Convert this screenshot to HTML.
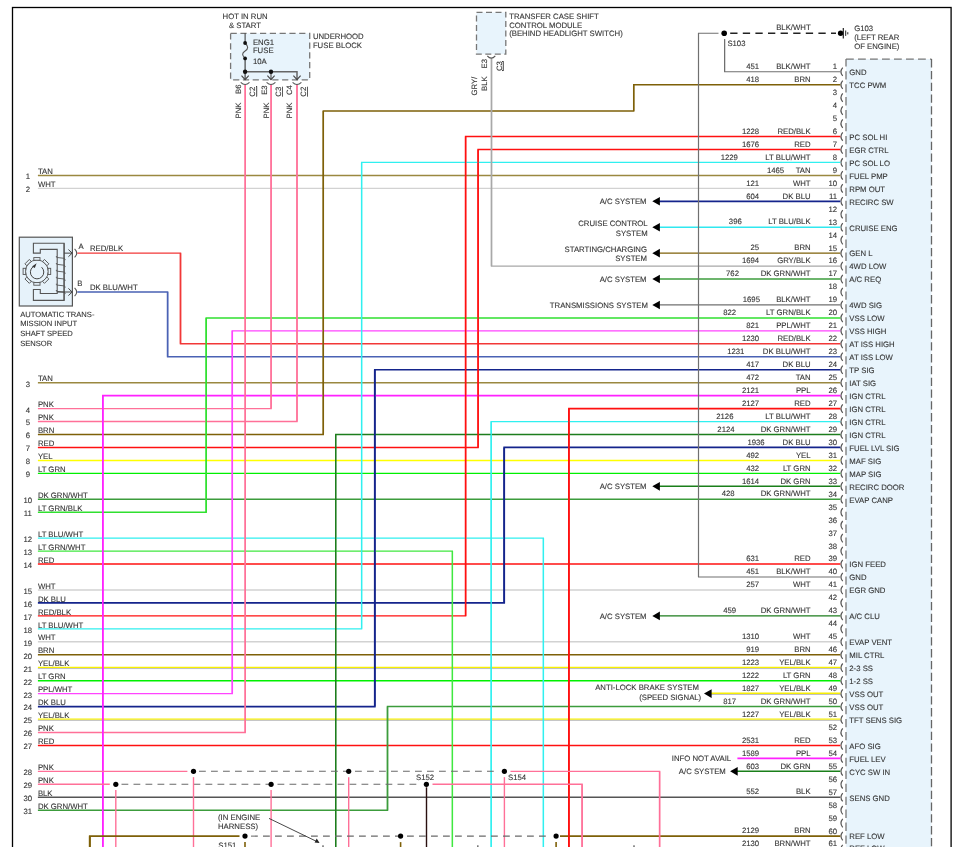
<!DOCTYPE html>
<html><head><meta charset="utf-8"><title>Wiring Diagram</title>
<style>
html,body{margin:0;padding:0;background:#fff;}
body{width:962px;height:847px;overflow:hidden;}
svg{display:block;}
text{font-family:"Liberation Sans",Arial,sans-serif;text-rendering:geometricPrecision;stroke:#333;stroke-width:0.1px;}
</style></head>
<body>
<svg width="962" height="847" viewBox="0 0 962 847">
<rect width="962" height="847" fill="#fff"/>
<rect x="12.5" y="7.5" width="938.6" height="900" fill="none" stroke="#000" stroke-width="1.3"/>
<rect x="846" y="59" width="85.5" height="820" fill="#e8f4fc" stroke="none"/>
<line x1="846.00" y1="59.10" x2="931.50" y2="59.10" stroke="#777" stroke-width="1.3" stroke-dasharray="7.8 4.2"/>
<line x1="931.50" y1="59.10" x2="931.50" y2="860.00" stroke="#666" stroke-width="1.3" stroke-dasharray="8.3 3.5"/>
<line x1="846" y1="59.1" x2="846" y2="860" stroke="#777" stroke-width="1.3" stroke-dasharray="8.355 4.6" stroke-dashoffset="-12.070"/>
<path d="M842.7,67.57 Q839.2,71.77 842.7,75.97" fill="none" stroke="#555" stroke-width="1.2"/>
<path d="M842.7,80.52 Q839.2,84.72 842.7,88.92" fill="none" stroke="#555" stroke-width="1.2"/>
<path d="M842.7,93.48 Q839.2,97.68 842.7,101.88" fill="none" stroke="#555" stroke-width="1.2"/>
<path d="M842.7,106.43 Q839.2,110.63 842.7,114.83" fill="none" stroke="#555" stroke-width="1.2"/>
<path d="M842.7,119.39 Q839.2,123.59 842.7,127.79" fill="none" stroke="#555" stroke-width="1.2"/>
<path d="M842.7,132.35 Q839.2,136.55 842.7,140.75" fill="none" stroke="#555" stroke-width="1.2"/>
<path d="M842.7,145.30 Q839.2,149.50 842.7,153.70" fill="none" stroke="#555" stroke-width="1.2"/>
<path d="M842.7,158.25 Q839.2,162.45 842.7,166.65" fill="none" stroke="#555" stroke-width="1.2"/>
<path d="M842.7,171.21 Q839.2,175.41 842.7,179.61" fill="none" stroke="#555" stroke-width="1.2"/>
<path d="M842.7,184.17 Q839.2,188.37 842.7,192.56" fill="none" stroke="#555" stroke-width="1.2"/>
<path d="M842.7,197.12 Q839.2,201.32 842.7,205.52" fill="none" stroke="#555" stroke-width="1.2"/>
<path d="M842.7,210.07 Q839.2,214.27 842.7,218.47" fill="none" stroke="#555" stroke-width="1.2"/>
<path d="M842.7,223.03 Q839.2,227.23 842.7,231.43" fill="none" stroke="#555" stroke-width="1.2"/>
<path d="M842.7,235.99 Q839.2,240.19 842.7,244.38" fill="none" stroke="#555" stroke-width="1.2"/>
<path d="M842.7,248.94 Q839.2,253.14 842.7,257.34" fill="none" stroke="#555" stroke-width="1.2"/>
<path d="M842.7,261.89 Q839.2,266.09 842.7,270.29" fill="none" stroke="#555" stroke-width="1.2"/>
<path d="M842.7,274.85 Q839.2,279.05 842.7,283.25" fill="none" stroke="#555" stroke-width="1.2"/>
<path d="M842.7,287.81 Q839.2,292.00 842.7,296.20" fill="none" stroke="#555" stroke-width="1.2"/>
<path d="M842.7,300.76 Q839.2,304.96 842.7,309.16" fill="none" stroke="#555" stroke-width="1.2"/>
<path d="M842.7,313.72 Q839.2,317.92 842.7,322.12" fill="none" stroke="#555" stroke-width="1.2"/>
<path d="M842.7,326.67 Q839.2,330.87 842.7,335.07" fill="none" stroke="#555" stroke-width="1.2"/>
<path d="M842.7,339.62 Q839.2,343.82 842.7,348.02" fill="none" stroke="#555" stroke-width="1.2"/>
<path d="M842.7,352.58 Q839.2,356.78 842.7,360.98" fill="none" stroke="#555" stroke-width="1.2"/>
<path d="M842.7,365.53 Q839.2,369.73 842.7,373.93" fill="none" stroke="#555" stroke-width="1.2"/>
<path d="M842.7,378.49 Q839.2,382.69 842.7,386.89" fill="none" stroke="#555" stroke-width="1.2"/>
<path d="M842.7,391.44 Q839.2,395.64 842.7,399.84" fill="none" stroke="#555" stroke-width="1.2"/>
<path d="M842.7,404.40 Q839.2,408.60 842.7,412.80" fill="none" stroke="#555" stroke-width="1.2"/>
<path d="M842.7,417.36 Q839.2,421.56 842.7,425.75" fill="none" stroke="#555" stroke-width="1.2"/>
<path d="M842.7,430.31 Q839.2,434.51 842.7,438.71" fill="none" stroke="#555" stroke-width="1.2"/>
<path d="M842.7,443.26 Q839.2,447.46 842.7,451.66" fill="none" stroke="#555" stroke-width="1.2"/>
<path d="M842.7,456.22 Q839.2,460.42 842.7,464.62" fill="none" stroke="#555" stroke-width="1.2"/>
<path d="M842.7,469.18 Q839.2,473.38 842.7,477.57" fill="none" stroke="#555" stroke-width="1.2"/>
<path d="M842.7,482.13 Q839.2,486.33 842.7,490.53" fill="none" stroke="#555" stroke-width="1.2"/>
<path d="M842.7,495.08 Q839.2,499.28 842.7,503.48" fill="none" stroke="#555" stroke-width="1.2"/>
<path d="M842.7,508.04 Q839.2,512.24 842.7,516.44" fill="none" stroke="#555" stroke-width="1.2"/>
<path d="M842.7,521.00 Q839.2,525.20 842.7,529.40" fill="none" stroke="#555" stroke-width="1.2"/>
<path d="M842.7,533.95 Q839.2,538.15 842.7,542.35" fill="none" stroke="#555" stroke-width="1.2"/>
<path d="M842.7,546.90 Q839.2,551.11 842.7,555.31" fill="none" stroke="#555" stroke-width="1.2"/>
<path d="M842.7,559.86 Q839.2,564.06 842.7,568.26" fill="none" stroke="#555" stroke-width="1.2"/>
<path d="M842.7,572.81 Q839.2,577.01 842.7,581.22" fill="none" stroke="#555" stroke-width="1.2"/>
<path d="M842.7,585.77 Q839.2,589.97 842.7,594.17" fill="none" stroke="#555" stroke-width="1.2"/>
<path d="M842.7,598.72 Q839.2,602.92 842.7,607.12" fill="none" stroke="#555" stroke-width="1.2"/>
<path d="M842.7,611.68 Q839.2,615.88 842.7,620.08" fill="none" stroke="#555" stroke-width="1.2"/>
<path d="M842.7,624.63 Q839.2,628.84 842.7,633.04" fill="none" stroke="#555" stroke-width="1.2"/>
<path d="M842.7,637.59 Q839.2,641.79 842.7,645.99" fill="none" stroke="#555" stroke-width="1.2"/>
<path d="M842.7,650.54 Q839.2,654.75 842.7,658.95" fill="none" stroke="#555" stroke-width="1.2"/>
<path d="M842.7,663.50 Q839.2,667.70 842.7,671.90" fill="none" stroke="#555" stroke-width="1.2"/>
<path d="M842.7,676.45 Q839.2,680.65 842.7,684.86" fill="none" stroke="#555" stroke-width="1.2"/>
<path d="M842.7,689.41 Q839.2,693.61 842.7,697.81" fill="none" stroke="#555" stroke-width="1.2"/>
<path d="M842.7,702.36 Q839.2,706.56 842.7,710.76" fill="none" stroke="#555" stroke-width="1.2"/>
<path d="M842.7,715.32 Q839.2,719.52 842.7,723.72" fill="none" stroke="#555" stroke-width="1.2"/>
<path d="M842.7,728.27 Q839.2,732.48 842.7,736.68" fill="none" stroke="#555" stroke-width="1.2"/>
<path d="M842.7,741.23 Q839.2,745.43 842.7,749.63" fill="none" stroke="#555" stroke-width="1.2"/>
<path d="M842.7,754.18 Q839.2,758.38 842.7,762.59" fill="none" stroke="#555" stroke-width="1.2"/>
<path d="M842.7,767.14 Q839.2,771.34 842.7,775.54" fill="none" stroke="#555" stroke-width="1.2"/>
<path d="M842.7,780.09 Q839.2,784.29 842.7,788.50" fill="none" stroke="#555" stroke-width="1.2"/>
<path d="M842.7,793.05 Q839.2,797.25 842.7,801.45" fill="none" stroke="#555" stroke-width="1.2"/>
<path d="M842.7,806.00 Q839.2,810.21 842.7,814.41" fill="none" stroke="#555" stroke-width="1.2"/>
<path d="M842.7,818.96 Q839.2,823.16 842.7,827.36" fill="none" stroke="#555" stroke-width="1.2"/>
<path d="M842.7,831.91 Q839.2,836.12 842.7,840.32" fill="none" stroke="#555" stroke-width="1.2"/>
<path d="M842.7,844.87 Q839.2,849.07 842.7,853.27" fill="none" stroke="#555" stroke-width="1.2"/>
<line x1="37.90" y1="175.41" x2="840.30" y2="175.41" stroke="#9a8840" stroke-width="1.45" />
<line x1="37.90" y1="188.37" x2="840.30" y2="188.37" stroke="#d2d2d2" stroke-width="1.35" />
<line x1="37.90" y1="382.69" x2="840.30" y2="382.69" stroke="#9a8840" stroke-width="1.45" />
<line x1="37.90" y1="460.42" x2="840.30" y2="460.42" stroke="#ffff00" stroke-width="1.45" />
<line x1="37.90" y1="473.38" x2="840.30" y2="473.38" stroke="#00f000" stroke-width="1.45" />
<line x1="37.90" y1="499.28" x2="840.30" y2="499.28" stroke="#3c9c3c" stroke-width="1.45" />
<line x1="37.90" y1="564.06" x2="840.30" y2="564.06" stroke="#ff1010" stroke-width="1.45" />
<line x1="37.90" y1="589.97" x2="840.30" y2="589.97" stroke="#d2d2d2" stroke-width="1.35" />
<line x1="37.90" y1="641.79" x2="840.30" y2="641.79" stroke="#d2d2d2" stroke-width="1.35" />
<line x1="37.90" y1="654.75" x2="840.30" y2="654.75" stroke="#7e6008" stroke-width="1.45" />
<line x1="37.90" y1="667.35" x2="840.30" y2="667.35" stroke="#f8f000" stroke-width="1.4" />
<line x1="37.90" y1="668.55" x2="840.30" y2="668.55" stroke="#a0a0a0" stroke-width="0.7" />
<line x1="37.90" y1="680.65" x2="840.30" y2="680.65" stroke="#00f000" stroke-width="1.45" />
<line x1="37.90" y1="719.17" x2="840.30" y2="719.17" stroke="#f8f000" stroke-width="1.4" />
<line x1="37.90" y1="720.37" x2="840.30" y2="720.37" stroke="#a0a0a0" stroke-width="0.7" />
<line x1="37.90" y1="745.43" x2="840.30" y2="745.43" stroke="#ff1010" stroke-width="1.45" />
<line x1="37.90" y1="797.25" x2="840.30" y2="797.25" stroke="#555555" stroke-width="1.45" />
<polyline points="840.30,71.77 724.60,71.77 724.60,39.20" fill="none" stroke="#707070" stroke-width="1.1" stroke-linejoin="miter" />
<polyline points="840.30,84.72 633.70,84.72 633.70,110.90 323.30,110.90 323.30,434.51 37.90,434.51" fill="none" stroke="#7e6008" stroke-width="1.45" stroke-linejoin="miter" />
<polyline points="840.30,136.55 465.60,136.55 465.60,615.88 37.90,615.88" fill="none" stroke="#ff1010" stroke-width="1.45" stroke-linejoin="miter" />
<polyline points="840.30,149.50 478.10,149.50 478.10,447.46 37.90,447.46" fill="none" stroke="#ff1010" stroke-width="1.45" stroke-linejoin="miter" />
<polyline points="840.30,162.45 361.60,162.45 361.60,628.84 37.90,628.84" fill="none" stroke="#30f0f0" stroke-width="1.3" stroke-linejoin="miter" />
<line x1="658.00" y1="201.32" x2="840.30" y2="201.32" stroke="#14248c" stroke-width="1.7" />
<polygon points="652.30,201.32 659.90,197.02 659.90,205.62" fill="#000"/>
<line x1="658.00" y1="227.23" x2="840.30" y2="227.23" stroke="#30e8f0" stroke-width="1.45" />
<polygon points="652.30,227.23 659.90,222.93 659.90,231.53" fill="#000"/>
<line x1="658.00" y1="253.14" x2="840.30" y2="253.14" stroke="#7e6008" stroke-width="1.45" />
<polygon points="652.30,253.14 659.90,248.84 659.90,257.44" fill="#000"/>
<line x1="658.00" y1="279.05" x2="840.30" y2="279.05" stroke="#3c9c3c" stroke-width="1.45" />
<polygon points="652.30,279.05 659.90,274.75 659.90,283.35" fill="#000"/>
<line x1="658.00" y1="304.96" x2="840.30" y2="304.96" stroke="#707070" stroke-width="1.3" />
<polygon points="652.30,304.96 659.90,300.66 659.90,309.26" fill="#000"/>
<line x1="658.00" y1="486.33" x2="840.30" y2="486.33" stroke="#1a7f1a" stroke-width="1.45" />
<polygon points="652.30,486.33 659.90,482.03 659.90,490.63" fill="#000"/>
<line x1="658.00" y1="615.88" x2="840.30" y2="615.88" stroke="#1d7d1d" stroke-width="1.45" />
<polygon points="652.30,615.88 659.90,611.58 659.90,620.18" fill="#000"/>
<polyline points="840.30,266.09 491.50,266.09 491.50,58.50" fill="none" stroke="#a8a8a8" stroke-width="1.4" stroke-linejoin="miter" />
<polyline points="840.30,317.92 206.20,317.92 206.20,512.24 37.90,512.24" fill="none" stroke="#30e030" stroke-width="1.45" stroke-linejoin="miter" />
<polyline points="840.30,330.87 232.30,330.87 232.30,693.61 37.90,693.61" fill="none" stroke="#ff44ff" stroke-width="1.45" stroke-linejoin="miter" />
<polyline points="840.30,343.82 180.50,343.82 180.50,253.14 77.30,253.14" fill="none" stroke="#f23838" stroke-width="1.45" stroke-linejoin="miter" />
<polyline points="840.30,356.78 167.60,356.78 167.60,292.00 77.30,292.00" fill="none" stroke="#4a62b4" stroke-width="1.45" stroke-linejoin="miter" />
<polyline points="840.30,369.73 374.80,369.73 374.80,706.56 37.90,706.56" fill="none" stroke="#14248c" stroke-width="1.7" stroke-linejoin="miter" />
<polyline points="840.30,395.64 102.80,395.64 102.80,860.00" fill="none" stroke="#ff22ff" stroke-width="1.6" stroke-linejoin="miter" />
<polyline points="840.30,408.60 568.90,408.60 568.90,860.00" fill="none" stroke="#ff1010" stroke-width="1.6" stroke-linejoin="miter" />
<polyline points="840.30,421.56 491.20,421.56 491.20,860.00" fill="none" stroke="#30f0f0" stroke-width="1.3" stroke-linejoin="miter" />
<polyline points="840.30,434.51 335.70,434.51 335.70,860.00" fill="none" stroke="#1d7d1d" stroke-width="1.3" stroke-linejoin="miter" />
<polyline points="840.30,447.46 504.20,447.46 504.20,602.92 37.90,602.92" fill="none" stroke="#14248c" stroke-width="1.7" stroke-linejoin="miter" />
<polyline points="840.30,577.01 698.50,577.01 698.50,33.20 718.50,33.20" fill="none" stroke="#707070" stroke-width="1.1" stroke-linejoin="miter" />
<polyline points="37.90,538.15 543.40,538.15 543.40,860.00" fill="none" stroke="#30f0f0" stroke-width="1.3" stroke-linejoin="miter" />
<polyline points="37.90,551.11 452.40,551.11 452.40,860.00" fill="none" stroke="#40e840" stroke-width="1.3" stroke-linejoin="miter" />
<polyline points="37.90,408.60 271.10,408.60 271.10,85.00" fill="none" stroke="#ff7098" stroke-width="1.4" stroke-linejoin="miter" />
<polyline points="37.90,421.56 297.00,421.56 297.00,85.00" fill="none" stroke="#ff7098" stroke-width="1.4" stroke-linejoin="miter" />
<polyline points="37.90,732.48 245.20,732.48 245.20,85.00" fill="none" stroke="#ff7098" stroke-width="1.4" stroke-linejoin="miter" />
<line x1="710.00" y1="693.26" x2="840.30" y2="693.26" stroke="#f8f000" stroke-width="1.4" />
<line x1="710.00" y1="694.46" x2="840.30" y2="694.46" stroke="#a0a0a0" stroke-width="0.7" />
<polygon points="704.00,693.61 711.60,689.31 711.60,697.91" fill="#000"/>
<polyline points="840.30,706.56 387.50,706.56 387.50,810.21 37.90,810.21" fill="none" stroke="#3c9c3c" stroke-width="1.45" stroke-linejoin="miter" />
<line x1="737.40" y1="758.38" x2="840.30" y2="758.38" stroke="#ff22ff" stroke-width="1.6" />
<line x1="736.00" y1="771.34" x2="840.30" y2="771.34" stroke="#1a7f1a" stroke-width="1.45" />
<polygon points="730.10,771.34 737.70,767.04 737.70,775.64" fill="#000"/>
<line x1="560.00" y1="836.12" x2="840.30" y2="836.12" stroke="#7e6008" stroke-width="1.8" />
<line x1="724.60" y1="71.77" x2="724.60" y2="39.20" stroke="#707070" stroke-width="1.1"/>
<line x1="633.70" y1="84.72" x2="633.70" y2="110.90" stroke="#7e6008" stroke-width="1.45"/>
<line x1="323.30" y1="110.90" x2="323.30" y2="434.51" stroke="#7e6008" stroke-width="1.45"/>
<line x1="465.60" y1="136.55" x2="465.60" y2="615.88" stroke="#ff1010" stroke-width="1.45"/>
<line x1="478.10" y1="149.50" x2="478.10" y2="447.46" stroke="#ff1010" stroke-width="1.45"/>
<line x1="361.60" y1="162.45" x2="361.60" y2="628.84" stroke="#30f0f0" stroke-width="1.3"/>
<line x1="491.50" y1="266.09" x2="491.50" y2="58.50" stroke="#a8a8a8" stroke-width="1.4"/>
<line x1="206.20" y1="317.92" x2="206.20" y2="512.24" stroke="#30e030" stroke-width="1.45"/>
<line x1="232.30" y1="330.87" x2="232.30" y2="693.61" stroke="#ff44ff" stroke-width="1.45"/>
<line x1="180.50" y1="343.82" x2="180.50" y2="253.14" stroke="#f23838" stroke-width="1.45"/>
<line x1="167.60" y1="356.78" x2="167.60" y2="292.00" stroke="#4a62b4" stroke-width="1.45"/>
<line x1="374.80" y1="369.73" x2="374.80" y2="706.56" stroke="#14248c" stroke-width="1.7"/>
<line x1="102.80" y1="395.64" x2="102.80" y2="860.00" stroke="#ff22ff" stroke-width="1.6"/>
<line x1="568.90" y1="408.60" x2="568.90" y2="860.00" stroke="#ff1010" stroke-width="1.6"/>
<line x1="491.20" y1="421.56" x2="491.20" y2="860.00" stroke="#30f0f0" stroke-width="1.3"/>
<line x1="335.70" y1="434.51" x2="335.70" y2="860.00" stroke="#1d7d1d" stroke-width="1.3"/>
<line x1="504.20" y1="447.46" x2="504.20" y2="602.92" stroke="#14248c" stroke-width="1.7"/>
<line x1="698.50" y1="577.01" x2="698.50" y2="33.20" stroke="#707070" stroke-width="1.1"/>
<line x1="543.40" y1="538.15" x2="543.40" y2="860.00" stroke="#30f0f0" stroke-width="1.3"/>
<line x1="452.40" y1="551.11" x2="452.40" y2="860.00" stroke="#40e840" stroke-width="1.3"/>
<line x1="271.10" y1="408.60" x2="271.10" y2="85.00" stroke="#ff7098" stroke-width="1.4"/>
<line x1="297.00" y1="421.56" x2="297.00" y2="85.00" stroke="#ff7098" stroke-width="1.4"/>
<line x1="245.20" y1="732.48" x2="245.20" y2="85.00" stroke="#ff7098" stroke-width="1.4"/>
<line x1="387.50" y1="706.56" x2="387.50" y2="810.21" stroke="#3c9c3c" stroke-width="1.45"/>
<line x1="659.60" y1="771.34" x2="659.60" y2="860.00" stroke="#ff7098" stroke-width="1.4"/>
<line x1="582.10" y1="784.29" x2="582.10" y2="860.00" stroke="#ff7098" stroke-width="1.4"/>
<line x1="89.80" y1="860.00" x2="89.80" y2="836.12" stroke="#7e6008" stroke-width="1.8"/>
<line x1="297.00" y1="71.80" x2="297.00" y2="79.50" stroke="#666" stroke-width="1.5"/>
<line x1="37.90" y1="771.34" x2="187.40" y2="771.34" stroke="#ff7098" stroke-width="1.4" />
<line x1="37.90" y1="784.29" x2="109.80" y2="784.29" stroke="#ff7098" stroke-width="1.4" />
<line x1="199.00" y1="771.34" x2="498.00" y2="771.34" stroke="#6a6a6a" stroke-width="1.05" stroke-dasharray="6.8 5.2"/>
<line x1="121.50" y1="784.29" x2="420.00" y2="784.29" stroke="#6a6a6a" stroke-width="1.05" stroke-dasharray="6.8 5.2"/>
<polyline points="510.50,771.34 659.60,771.34 659.60,860.00" fill="none" stroke="#ff7098" stroke-width="1.4" stroke-linejoin="miter" />
<polyline points="432.50,784.29 582.10,784.29 582.10,860.00" fill="none" stroke="#ff7098" stroke-width="1.4" stroke-linejoin="miter" />
<line x1="193.50" y1="777.14" x2="193.50" y2="860.00" stroke="#ff7098" stroke-width="1.4" />
<line x1="348.70" y1="777.14" x2="348.70" y2="860.00" stroke="#ff7098" stroke-width="1.4" />
<line x1="504.40" y1="777.14" x2="504.40" y2="860.00" stroke="#ff7098" stroke-width="1.4" />
<line x1="115.80" y1="790.09" x2="115.80" y2="860.00" stroke="#ff7098" stroke-width="1.4" />
<line x1="271.10" y1="790.09" x2="271.10" y2="860.00" stroke="#ff7098" stroke-width="1.4" />
<line x1="426.50" y1="787.29" x2="426.50" y2="860.00" stroke="#2a1010" stroke-width="1.4" />
<circle cx="193.50" cy="771.34" r="2.6" fill="#000"/>
<circle cx="348.70" cy="771.34" r="2.6" fill="#000"/>
<circle cx="504.40" cy="771.34" r="2.6" fill="#000"/>
<circle cx="115.80" cy="784.29" r="2.6" fill="#000"/>
<circle cx="271.10" cy="784.29" r="2.6" fill="#000"/>
<circle cx="426.40" cy="784.29" r="2.6" fill="#000"/>
<polyline points="89.80,860.00 89.80,836.12 239.50,836.12" fill="none" stroke="#7e6008" stroke-width="1.8" stroke-linejoin="miter" />
<line x1="251.00" y1="836.12" x2="551.00" y2="836.12" stroke="#6a6a6a" stroke-width="1.05" stroke-dasharray="6.8 5.2"/>
<line x1="245.00" y1="842.12" x2="245.00" y2="860.00" stroke="#7e6008" stroke-width="1.6" />
<circle cx="245.00" cy="836.12" r="2.6" fill="#000"/>
<line x1="400.60" y1="842.12" x2="400.60" y2="860.00" stroke="#7e6008" stroke-width="1.6" />
<circle cx="400.60" cy="836.12" r="2.6" fill="#000"/>
<line x1="556.10" y1="842.12" x2="556.10" y2="860.00" stroke="#7e6008" stroke-width="1.6" />
<circle cx="556.10" cy="836.12" r="2.6" fill="#000"/>
<rect x="322.2" y="845.3" width="1.6" height="1.7" fill="#777"/>
<rect x="477.0" y="845.3" width="1.6" height="1.7" fill="#777"/>
<rect x="633.2" y="845.3" width="1.6" height="1.7" fill="#777"/>
<line x1="269.00" y1="818.40" x2="317.00" y2="841.60" stroke="#333" stroke-width="0.9" />
<polygon points="319.6,843.1 314.6,842.6 316.7,838.6" fill="#222"/>
<line x1="730.20" y1="33.20" x2="836.00" y2="33.20" stroke="#222" stroke-width="1.4" stroke-dasharray="7.3 5.3"/>
<circle cx="724.20" cy="33.20" r="2.8" fill="#000"/>
<circle cx="840.60" cy="33.20" r="2.7" fill="#000"/>
<line x1="843.30" y1="28.00" x2="843.30" y2="38.40" stroke="#222" stroke-width="1.2" />
<line x1="845.70" y1="30.50" x2="845.70" y2="35.90" stroke="#222" stroke-width="1.0" />
<line x1="847.80" y1="32.20" x2="847.80" y2="34.40" stroke="#222" stroke-width="1.0" />
<rect x="476.5" y="12.4" width="29.3" height="41.7" fill="#e8f4fc" stroke="#777" stroke-width="1.3" stroke-dasharray="6 3.5"/>
<path d="M487.3,55.8 Q491.3,60.5 495.3,55.8" fill="none" stroke="#555" stroke-width="1.1"/>
<rect x="230.6" y="33.4" width="79.1" height="46.5" fill="#e8f4fc" stroke="#777" stroke-width="1.3" stroke-dasharray="6.2 3.6"/>
<line x1="245.10" y1="33.40" x2="245.10" y2="43.00" stroke="#333" stroke-width="1.0" />
<path d="M245.1,43 C248.5,46.5 248.5,49 245.1,51 C241.8,53 241.8,55.5 245.1,58.4" fill="none" stroke="#555" stroke-width="1.1"/>
<line x1="245.10" y1="58.40" x2="245.10" y2="79.50" stroke="#333" stroke-width="1.1" />
<circle cx="245.10" cy="43.00" r="1.9" fill="#111"/>
<circle cx="245.10" cy="58.40" r="1.9" fill="#111"/>
<polyline points="245.10,71.80 297.00,71.80 297.00,79.50" fill="none" stroke="#666" stroke-width="1.5" stroke-linejoin="miter" />
<line x1="271.00" y1="71.80" x2="271.00" y2="79.50" stroke="#666" stroke-width="1.3" />
<circle cx="245.10" cy="71.80" r="2.2" fill="#111"/>
<circle cx="271.00" cy="71.80" r="2.2" fill="#111"/>
<polyline points="241.50,75.6 245.10,79.6 248.70,75.6" fill="none" stroke="#444" stroke-width="1.1"/>
<path d="M240.70,82.4 Q245.10,86.6 249.50,82.4" fill="none" stroke="#555" stroke-width="1.1"/>
<polyline points="267.40,75.6 271.00,79.6 274.60,75.6" fill="none" stroke="#444" stroke-width="1.1"/>
<path d="M266.60,82.4 Q271.00,86.6 275.40,82.4" fill="none" stroke="#555" stroke-width="1.1"/>
<polyline points="293.40,75.6 297.00,79.6 300.60,75.6" fill="none" stroke="#444" stroke-width="1.1"/>
<path d="M292.60,82.4 Q297.00,86.6 301.40,82.4" fill="none" stroke="#555" stroke-width="1.1"/>
<rect x="19.3" y="237.2" width="53.1" height="68.8" fill="#e6f2fa" stroke="#555" stroke-width="1.2"/>
<polygon points="33.4,243.2 64.1,243.2 64.1,300.4 33.4,300.4 33.4,289.5 40.3,289.5 40.3,293.5 57.2,293.5 57.2,249.4 40.3,249.4 40.3,253.1 33.4,253.1" fill="#e6f2fa" stroke="#555" stroke-width="1.1"/>
<circle cx="36.9" cy="271.4" r="11.4" fill="#e6f2fa" stroke="#555" stroke-width="1.0"/>
<rect x="33.80" y="257.60" width="6.2" height="2.6" fill="#e6f2fa" stroke="#555" stroke-width="0.9" transform="rotate(0 36.9 271.4)"/>
<rect x="33.80" y="257.60" width="6.2" height="2.6" fill="#e6f2fa" stroke="#555" stroke-width="0.9" transform="rotate(45 36.9 271.4)"/>
<rect x="33.80" y="257.60" width="6.2" height="2.6" fill="#e6f2fa" stroke="#555" stroke-width="0.9" transform="rotate(90 36.9 271.4)"/>
<rect x="33.80" y="257.60" width="6.2" height="2.6" fill="#e6f2fa" stroke="#555" stroke-width="0.9" transform="rotate(135 36.9 271.4)"/>
<rect x="33.80" y="257.60" width="6.2" height="2.6" fill="#e6f2fa" stroke="#555" stroke-width="0.9" transform="rotate(180 36.9 271.4)"/>
<rect x="33.80" y="257.60" width="6.2" height="2.6" fill="#e6f2fa" stroke="#555" stroke-width="0.9" transform="rotate(225 36.9 271.4)"/>
<rect x="33.80" y="257.60" width="6.2" height="2.6" fill="#e6f2fa" stroke="#555" stroke-width="0.9" transform="rotate(270 36.9 271.4)"/>
<rect x="33.80" y="257.60" width="6.2" height="2.6" fill="#e6f2fa" stroke="#555" stroke-width="0.9" transform="rotate(315 36.9 271.4)"/>
<circle cx="36.9" cy="271.4" r="10.4" fill="#e6f2fa" stroke="none"/>
<path d="M41.60,267.20 A6.7,6.7 0 1 1 32.80,267.00" fill="none" stroke="#444" stroke-width="1.0"/>
<polygon points="36.60,263.20 32.00,266.60 34.80,268.00" fill="#333"/>
<path d="M56.4,256.1 Q55.9,257.4 57.2,257.5 L64.1,258.3 Q65.8,258.9 64.8,260.3 M56.4,263.0 Q55.9,264.3 57.2,264.4 L64.1,265.2 Q65.8,265.8 64.8,267.2 M56.4,269.8 Q55.9,271.1 57.2,271.2 L64.1,272.0 Q65.8,272.6 64.8,274.0 M56.4,276.8 Q55.9,278.1 57.2,278.2 L64.1,279.0 Q65.8,279.6 64.8,281.0 M56.4,283.7 Q55.9,285.0 57.2,285.1 L64.1,285.9 Q65.8,286.5 64.8,287.9 M56.4,290.0 Q55.9,291.3 57.2,291.4 L64.1,292.2 Q65.8,292.8 64.8,294.2 " fill="none" stroke="#555" stroke-width="0.9"/>
<line x1="64.10" y1="243.20" x2="64.10" y2="300.40" stroke="#555" stroke-width="1.1" />
<line x1="64.10" y1="253.14" x2="72.00" y2="253.14" stroke="#444" stroke-width="1.0" />
<line x1="57.20" y1="292.00" x2="72.00" y2="292.00" stroke="#444" stroke-width="1.0" />
<polyline points="68.40,249.54 72.20,253.14 68.40,256.74" fill="none" stroke="#444" stroke-width="1.0"/>
<path d="M74.6,248.94 Q78.8,253.14 74.6,257.34" fill="none" stroke="#555" stroke-width="1.1"/>
<polyline points="68.40,288.40 72.20,292.00 68.40,295.61" fill="none" stroke="#444" stroke-width="1.0"/>
<path d="M74.6,287.81 Q78.8,292.00 74.6,296.20" fill="none" stroke="#555" stroke-width="1.1"/>
<text x="837.00" y="69.17" text-anchor="end" font-size="7.75" fill="#333" >1</text>
<text x="837.00" y="82.12" text-anchor="end" font-size="7.75" fill="#333" >2</text>
<text x="837.00" y="95.08" text-anchor="end" font-size="7.75" fill="#333" >3</text>
<text x="837.00" y="108.03" text-anchor="end" font-size="7.75" fill="#333" >4</text>
<text x="837.00" y="120.99" text-anchor="end" font-size="7.75" fill="#333" >5</text>
<text x="837.00" y="133.95" text-anchor="end" font-size="7.75" fill="#333" >6</text>
<text x="837.00" y="146.90" text-anchor="end" font-size="7.75" fill="#333" >7</text>
<text x="837.00" y="159.85" text-anchor="end" font-size="7.75" fill="#333" >8</text>
<text x="837.00" y="172.81" text-anchor="end" font-size="7.75" fill="#333" >9</text>
<text x="837.00" y="185.77" text-anchor="end" font-size="7.75" fill="#333" >10</text>
<text x="837.00" y="198.72" text-anchor="end" font-size="7.75" fill="#333" >11</text>
<text x="837.00" y="211.67" text-anchor="end" font-size="7.75" fill="#333" >12</text>
<text x="837.00" y="224.63" text-anchor="end" font-size="7.75" fill="#333" >13</text>
<text x="837.00" y="237.59" text-anchor="end" font-size="7.75" fill="#333" >14</text>
<text x="837.00" y="250.54" text-anchor="end" font-size="7.75" fill="#333" >15</text>
<text x="837.00" y="263.49" text-anchor="end" font-size="7.75" fill="#333" >16</text>
<text x="837.00" y="276.45" text-anchor="end" font-size="7.75" fill="#333" >17</text>
<text x="837.00" y="289.40" text-anchor="end" font-size="7.75" fill="#333" >18</text>
<text x="837.00" y="302.36" text-anchor="end" font-size="7.75" fill="#333" >19</text>
<text x="837.00" y="315.31" text-anchor="end" font-size="7.75" fill="#333" >20</text>
<text x="837.00" y="328.27" text-anchor="end" font-size="7.75" fill="#333" >21</text>
<text x="837.00" y="341.22" text-anchor="end" font-size="7.75" fill="#333" >22</text>
<text x="837.00" y="354.18" text-anchor="end" font-size="7.75" fill="#333" >23</text>
<text x="837.00" y="367.13" text-anchor="end" font-size="7.75" fill="#333" >24</text>
<text x="837.00" y="380.09" text-anchor="end" font-size="7.75" fill="#333" >25</text>
<text x="837.00" y="393.04" text-anchor="end" font-size="7.75" fill="#333" >26</text>
<text x="837.00" y="406.00" text-anchor="end" font-size="7.75" fill="#333" >27</text>
<text x="837.00" y="418.95" text-anchor="end" font-size="7.75" fill="#333" >28</text>
<text x="837.00" y="431.91" text-anchor="end" font-size="7.75" fill="#333" >29</text>
<text x="837.00" y="444.86" text-anchor="end" font-size="7.75" fill="#333" >30</text>
<text x="837.00" y="457.82" text-anchor="end" font-size="7.75" fill="#333" >31</text>
<text x="837.00" y="470.77" text-anchor="end" font-size="7.75" fill="#333" >32</text>
<text x="837.00" y="483.73" text-anchor="end" font-size="7.75" fill="#333" >33</text>
<text x="837.00" y="496.68" text-anchor="end" font-size="7.75" fill="#333" >34</text>
<text x="837.00" y="509.64" text-anchor="end" font-size="7.75" fill="#333" >35</text>
<text x="837.00" y="522.60" text-anchor="end" font-size="7.75" fill="#333" >36</text>
<text x="837.00" y="535.55" text-anchor="end" font-size="7.75" fill="#333" >37</text>
<text x="837.00" y="548.50" text-anchor="end" font-size="7.75" fill="#333" >38</text>
<text x="837.00" y="561.46" text-anchor="end" font-size="7.75" fill="#333" >39</text>
<text x="837.00" y="574.41" text-anchor="end" font-size="7.75" fill="#333" >40</text>
<text x="837.00" y="587.37" text-anchor="end" font-size="7.75" fill="#333" >41</text>
<text x="837.00" y="600.32" text-anchor="end" font-size="7.75" fill="#333" >42</text>
<text x="837.00" y="613.28" text-anchor="end" font-size="7.75" fill="#333" >43</text>
<text x="837.00" y="626.24" text-anchor="end" font-size="7.75" fill="#333" >44</text>
<text x="837.00" y="639.19" text-anchor="end" font-size="7.75" fill="#333" >45</text>
<text x="837.00" y="652.14" text-anchor="end" font-size="7.75" fill="#333" >46</text>
<text x="837.00" y="665.10" text-anchor="end" font-size="7.75" fill="#333" >47</text>
<text x="837.00" y="678.05" text-anchor="end" font-size="7.75" fill="#333" >48</text>
<text x="837.00" y="691.01" text-anchor="end" font-size="7.75" fill="#333" >49</text>
<text x="837.00" y="703.96" text-anchor="end" font-size="7.75" fill="#333" >50</text>
<text x="837.00" y="716.92" text-anchor="end" font-size="7.75" fill="#333" >51</text>
<text x="837.00" y="729.88" text-anchor="end" font-size="7.75" fill="#333" >52</text>
<text x="837.00" y="742.83" text-anchor="end" font-size="7.75" fill="#333" >53</text>
<text x="837.00" y="755.78" text-anchor="end" font-size="7.75" fill="#333" >54</text>
<text x="837.00" y="768.74" text-anchor="end" font-size="7.75" fill="#333" >55</text>
<text x="837.00" y="781.69" text-anchor="end" font-size="7.75" fill="#333" >56</text>
<text x="837.00" y="794.65" text-anchor="end" font-size="7.75" fill="#333" >57</text>
<text x="837.00" y="807.61" text-anchor="end" font-size="7.75" fill="#333" >58</text>
<text x="837.00" y="820.56" text-anchor="end" font-size="7.75" fill="#333" >59</text>
<text x="837.00" y="833.51" text-anchor="end" font-size="7.75" fill="#333" >60</text>
<text x="837.00" y="846.47" text-anchor="end" font-size="7.75" fill="#333" >61</text>
<text x="759.20" y="68.97" text-anchor="end" font-size="7.75" fill="#333" >451</text>
<text x="810.60" y="68.97" text-anchor="end" font-size="7.75" fill="#333" >BLK/WHT</text>
<text x="849.30" y="75.07" text-anchor="start" font-size="7.75" fill="#333" >GND</text>
<text x="759.20" y="81.92" text-anchor="end" font-size="7.75" fill="#333" >418</text>
<text x="810.60" y="81.92" text-anchor="end" font-size="7.75" fill="#333" >BRN</text>
<text x="849.30" y="88.02" text-anchor="start" font-size="7.75" fill="#333" >TCC PWM</text>
<text x="759.20" y="133.75" text-anchor="end" font-size="7.75" fill="#333" >1228</text>
<text x="810.60" y="133.75" text-anchor="end" font-size="7.75" fill="#333" >RED/BLK</text>
<text x="849.30" y="139.85" text-anchor="start" font-size="7.75" fill="#333" >PC SOL HI</text>
<text x="759.20" y="146.70" text-anchor="end" font-size="7.75" fill="#333" >1676</text>
<text x="810.60" y="146.70" text-anchor="end" font-size="7.75" fill="#333" >RED</text>
<text x="849.30" y="152.80" text-anchor="start" font-size="7.75" fill="#333" >EGR CTRL</text>
<text x="737.90" y="159.65" text-anchor="end" font-size="7.75" fill="#333" >1229</text>
<text x="810.60" y="159.65" text-anchor="end" font-size="7.75" fill="#333" >LT BLU/WHT</text>
<text x="849.30" y="165.75" text-anchor="start" font-size="7.75" fill="#333" >PC SOL LO</text>
<text x="784.20" y="172.61" text-anchor="end" font-size="7.75" fill="#333" >1465</text>
<text x="810.60" y="172.61" text-anchor="end" font-size="7.75" fill="#333" >TAN</text>
<text x="849.30" y="178.71" text-anchor="start" font-size="7.75" fill="#333" >FUEL PMP</text>
<text x="759.20" y="185.56" text-anchor="end" font-size="7.75" fill="#333" >121</text>
<text x="810.60" y="185.56" text-anchor="end" font-size="7.75" fill="#333" >WHT</text>
<text x="849.30" y="191.67" text-anchor="start" font-size="7.75" fill="#333" >RPM OUT</text>
<text x="759.20" y="198.52" text-anchor="end" font-size="7.75" fill="#333" >604</text>
<text x="810.60" y="198.52" text-anchor="end" font-size="7.75" fill="#333" >DK BLU</text>
<text x="849.30" y="204.62" text-anchor="start" font-size="7.75" fill="#333" >RECIRC SW</text>
<text x="741.80" y="224.43" text-anchor="end" font-size="7.75" fill="#333" >396</text>
<text x="810.60" y="224.43" text-anchor="end" font-size="7.75" fill="#333" >LT BLU/BLK</text>
<text x="849.30" y="230.53" text-anchor="start" font-size="7.75" fill="#333" >CRUISE ENG</text>
<text x="759.20" y="250.34" text-anchor="end" font-size="7.75" fill="#333" >25</text>
<text x="810.60" y="250.34" text-anchor="end" font-size="7.75" fill="#333" >BRN</text>
<text x="849.30" y="256.44" text-anchor="start" font-size="7.75" fill="#333" >GEN L</text>
<text x="759.20" y="263.29" text-anchor="end" font-size="7.75" fill="#333" >1694</text>
<text x="810.60" y="263.29" text-anchor="end" font-size="7.75" fill="#333" >GRY/BLK</text>
<text x="849.30" y="269.39" text-anchor="start" font-size="7.75" fill="#333" >4WD LOW</text>
<text x="739.00" y="276.25" text-anchor="end" font-size="7.75" fill="#333" >762</text>
<text x="810.60" y="276.25" text-anchor="end" font-size="7.75" fill="#333" >DK GRN/WHT</text>
<text x="849.30" y="282.35" text-anchor="start" font-size="7.75" fill="#333" >A/C REQ</text>
<text x="760.00" y="302.16" text-anchor="end" font-size="7.75" fill="#333" >1695</text>
<text x="810.60" y="302.16" text-anchor="end" font-size="7.75" fill="#333" >BLK/WHT</text>
<text x="849.30" y="308.26" text-anchor="start" font-size="7.75" fill="#333" >4WD SIG</text>
<text x="736.20" y="315.12" text-anchor="end" font-size="7.75" fill="#333" >822</text>
<text x="810.60" y="315.12" text-anchor="end" font-size="7.75" fill="#333" >LT GRN/BLK</text>
<text x="849.30" y="321.22" text-anchor="start" font-size="7.75" fill="#333" >VSS LOW</text>
<text x="759.20" y="328.07" text-anchor="end" font-size="7.75" fill="#333" >821</text>
<text x="810.60" y="328.07" text-anchor="end" font-size="7.75" fill="#333" >PPL/WHT</text>
<text x="849.30" y="334.17" text-anchor="start" font-size="7.75" fill="#333" >VSS HIGH</text>
<text x="759.20" y="341.02" text-anchor="end" font-size="7.75" fill="#333" >1230</text>
<text x="810.60" y="341.02" text-anchor="end" font-size="7.75" fill="#333" >RED/BLK</text>
<text x="849.30" y="347.12" text-anchor="start" font-size="7.75" fill="#333" >AT ISS HIGH</text>
<text x="744.40" y="353.98" text-anchor="end" font-size="7.75" fill="#333" >1231</text>
<text x="810.60" y="353.98" text-anchor="end" font-size="7.75" fill="#333" >DK BLU/WHT</text>
<text x="849.30" y="360.08" text-anchor="start" font-size="7.75" fill="#333" >AT ISS LOW</text>
<text x="759.20" y="366.93" text-anchor="end" font-size="7.75" fill="#333" >417</text>
<text x="810.60" y="366.93" text-anchor="end" font-size="7.75" fill="#333" >DK BLU</text>
<text x="849.30" y="373.03" text-anchor="start" font-size="7.75" fill="#333" >TP SIG</text>
<text x="759.20" y="379.89" text-anchor="end" font-size="7.75" fill="#333" >472</text>
<text x="810.60" y="379.89" text-anchor="end" font-size="7.75" fill="#333" >TAN</text>
<text x="849.30" y="385.99" text-anchor="start" font-size="7.75" fill="#333" >IAT SIG</text>
<text x="759.20" y="392.84" text-anchor="end" font-size="7.75" fill="#333" >2121</text>
<text x="810.60" y="392.84" text-anchor="end" font-size="7.75" fill="#333" >PPL</text>
<text x="849.30" y="398.94" text-anchor="start" font-size="7.75" fill="#333" >IGN CTRL</text>
<text x="759.20" y="405.80" text-anchor="end" font-size="7.75" fill="#333" >2127</text>
<text x="810.60" y="405.80" text-anchor="end" font-size="7.75" fill="#333" >RED</text>
<text x="849.30" y="411.90" text-anchor="start" font-size="7.75" fill="#333" >IGN CTRL</text>
<text x="733.50" y="418.75" text-anchor="end" font-size="7.75" fill="#333" >2126</text>
<text x="810.60" y="418.75" text-anchor="end" font-size="7.75" fill="#333" >LT BLU/WHT</text>
<text x="849.30" y="424.86" text-anchor="start" font-size="7.75" fill="#333" >IGN CTRL</text>
<text x="734.60" y="431.71" text-anchor="end" font-size="7.75" fill="#333" >2124</text>
<text x="810.60" y="431.71" text-anchor="end" font-size="7.75" fill="#333" >DK GRN/WHT</text>
<text x="849.30" y="437.81" text-anchor="start" font-size="7.75" fill="#333" >IGN CTRL</text>
<text x="764.70" y="444.66" text-anchor="end" font-size="7.75" fill="#333" >1936</text>
<text x="810.60" y="444.66" text-anchor="end" font-size="7.75" fill="#333" >DK BLU</text>
<text x="849.30" y="450.76" text-anchor="start" font-size="7.75" fill="#333" >FUEL LVL SIG</text>
<text x="759.20" y="457.62" text-anchor="end" font-size="7.75" fill="#333" >492</text>
<text x="810.60" y="457.62" text-anchor="end" font-size="7.75" fill="#333" >YEL</text>
<text x="849.30" y="463.72" text-anchor="start" font-size="7.75" fill="#333" >MAF SIG</text>
<text x="759.20" y="470.57" text-anchor="end" font-size="7.75" fill="#333" >432</text>
<text x="810.60" y="470.57" text-anchor="end" font-size="7.75" fill="#333" >LT GRN</text>
<text x="849.30" y="476.68" text-anchor="start" font-size="7.75" fill="#333" >MAP SIG</text>
<text x="759.20" y="483.53" text-anchor="end" font-size="7.75" fill="#333" >1614</text>
<text x="810.60" y="483.53" text-anchor="end" font-size="7.75" fill="#333" >DK GRN</text>
<text x="849.30" y="489.63" text-anchor="start" font-size="7.75" fill="#333" >RECIRC DOOR</text>
<text x="734.60" y="496.48" text-anchor="end" font-size="7.75" fill="#333" >428</text>
<text x="810.60" y="496.48" text-anchor="end" font-size="7.75" fill="#333" >DK GRN/WHT</text>
<text x="849.30" y="502.58" text-anchor="start" font-size="7.75" fill="#333" >EVAP CANP</text>
<text x="759.20" y="561.26" text-anchor="end" font-size="7.75" fill="#333" >631</text>
<text x="810.60" y="561.26" text-anchor="end" font-size="7.75" fill="#333" >RED</text>
<text x="849.30" y="567.36" text-anchor="start" font-size="7.75" fill="#333" >IGN FEED</text>
<text x="759.20" y="574.22" text-anchor="end" font-size="7.75" fill="#333" >451</text>
<text x="810.60" y="574.22" text-anchor="end" font-size="7.75" fill="#333" >BLK/WHT</text>
<text x="849.30" y="580.31" text-anchor="start" font-size="7.75" fill="#333" >GND</text>
<text x="759.20" y="587.17" text-anchor="end" font-size="7.75" fill="#333" >257</text>
<text x="810.60" y="587.17" text-anchor="end" font-size="7.75" fill="#333" >WHT</text>
<text x="849.30" y="593.27" text-anchor="start" font-size="7.75" fill="#333" >EGR GND</text>
<text x="736.20" y="613.08" text-anchor="end" font-size="7.75" fill="#333" >459</text>
<text x="810.60" y="613.08" text-anchor="end" font-size="7.75" fill="#333" >DK GRN/WHT</text>
<text x="849.30" y="619.18" text-anchor="start" font-size="7.75" fill="#333" >A/C CLU</text>
<text x="759.20" y="638.99" text-anchor="end" font-size="7.75" fill="#333" >1310</text>
<text x="810.60" y="638.99" text-anchor="end" font-size="7.75" fill="#333" >WHT</text>
<text x="849.30" y="645.09" text-anchor="start" font-size="7.75" fill="#333" >EVAP VENT</text>
<text x="759.20" y="651.95" text-anchor="end" font-size="7.75" fill="#333" >919</text>
<text x="810.60" y="651.95" text-anchor="end" font-size="7.75" fill="#333" >BRN</text>
<text x="849.30" y="658.04" text-anchor="start" font-size="7.75" fill="#333" >MIL CTRL</text>
<text x="759.20" y="664.90" text-anchor="end" font-size="7.75" fill="#333" >1223</text>
<text x="810.60" y="664.90" text-anchor="end" font-size="7.75" fill="#333" >YEL/BLK</text>
<text x="849.30" y="671.00" text-anchor="start" font-size="7.75" fill="#333" >2-3 SS</text>
<text x="759.20" y="677.86" text-anchor="end" font-size="7.75" fill="#333" >1222</text>
<text x="810.60" y="677.86" text-anchor="end" font-size="7.75" fill="#333" >LT GRN</text>
<text x="849.30" y="683.95" text-anchor="start" font-size="7.75" fill="#333" >1-2 SS</text>
<text x="759.20" y="690.81" text-anchor="end" font-size="7.75" fill="#333" >1827</text>
<text x="810.60" y="690.81" text-anchor="end" font-size="7.75" fill="#333" >YEL/BLK</text>
<text x="849.30" y="696.91" text-anchor="start" font-size="7.75" fill="#333" >VSS OUT</text>
<text x="736.20" y="703.76" text-anchor="end" font-size="7.75" fill="#333" >817</text>
<text x="810.60" y="703.76" text-anchor="end" font-size="7.75" fill="#333" >DK GRN/WHT</text>
<text x="849.30" y="709.86" text-anchor="start" font-size="7.75" fill="#333" >VSS OUT</text>
<text x="759.20" y="716.72" text-anchor="end" font-size="7.75" fill="#333" >1227</text>
<text x="810.60" y="716.72" text-anchor="end" font-size="7.75" fill="#333" >YEL/BLK</text>
<text x="849.30" y="722.82" text-anchor="start" font-size="7.75" fill="#333" >TFT SENS SIG</text>
<text x="759.20" y="742.63" text-anchor="end" font-size="7.75" fill="#333" >2531</text>
<text x="810.60" y="742.63" text-anchor="end" font-size="7.75" fill="#333" >RED</text>
<text x="849.30" y="748.73" text-anchor="start" font-size="7.75" fill="#333" >AFO SIG</text>
<text x="759.20" y="755.59" text-anchor="end" font-size="7.75" fill="#333" >1589</text>
<text x="810.60" y="755.59" text-anchor="end" font-size="7.75" fill="#333" >PPL</text>
<text x="849.30" y="761.68" text-anchor="start" font-size="7.75" fill="#333" >FUEL LEV</text>
<text x="759.20" y="768.54" text-anchor="end" font-size="7.75" fill="#333" >603</text>
<text x="810.60" y="768.54" text-anchor="end" font-size="7.75" fill="#333" >DK GRN</text>
<text x="849.30" y="774.64" text-anchor="start" font-size="7.75" fill="#333" >CYC SW IN</text>
<text x="759.20" y="794.45" text-anchor="end" font-size="7.75" fill="#333" >552</text>
<text x="810.60" y="794.45" text-anchor="end" font-size="7.75" fill="#333" >BLK</text>
<text x="849.30" y="800.55" text-anchor="start" font-size="7.75" fill="#333" >SENS GND</text>
<text x="759.20" y="833.32" text-anchor="end" font-size="7.75" fill="#333" >2129</text>
<text x="810.60" y="833.32" text-anchor="end" font-size="7.75" fill="#333" >BRN</text>
<text x="849.30" y="839.41" text-anchor="start" font-size="7.75" fill="#333" >REF LOW</text>
<text x="759.20" y="846.27" text-anchor="end" font-size="7.75" fill="#333" >2130</text>
<text x="810.60" y="846.27" text-anchor="end" font-size="7.75" fill="#333" >BRN/WHT</text>
<text x="849.30" y="851.30" text-anchor="start" font-size="7.75" fill="#333" >REF LOW</text>
<text x="416.00" y="780.00" text-anchor="start" font-size="7.75" fill="#333" >S152</text>
<text x="508.00" y="779.90" text-anchor="start" font-size="7.75" fill="#333" >S154</text>
<text x="218.30" y="847.50" text-anchor="start" font-size="7.75" fill="#333" >S151</text>
<text x="218.00" y="819.80" text-anchor="start" font-size="7.75" fill="#333" >(IN ENGINE</text>
<text x="218.00" y="829.30" text-anchor="start" font-size="7.75" fill="#333" >HARNESS)</text>
<text x="27.80" y="179.31" text-anchor="middle" font-size="7.75" fill="#333" >1</text>
<text x="37.90" y="174.11" text-anchor="start" font-size="7.75" fill="#333" >TAN</text>
<text x="27.80" y="192.27" text-anchor="middle" font-size="7.75" fill="#333" >2</text>
<text x="37.90" y="187.06" text-anchor="start" font-size="7.75" fill="#333" >WHT</text>
<text x="27.80" y="386.59" text-anchor="middle" font-size="7.75" fill="#333" >3</text>
<text x="37.90" y="381.39" text-anchor="start" font-size="7.75" fill="#333" >TAN</text>
<text x="27.80" y="412.50" text-anchor="middle" font-size="7.75" fill="#333" >4</text>
<text x="37.90" y="407.30" text-anchor="start" font-size="7.75" fill="#333" >PNK</text>
<text x="27.80" y="425.45" text-anchor="middle" font-size="7.75" fill="#333" >5</text>
<text x="37.90" y="420.25" text-anchor="start" font-size="7.75" fill="#333" >PNK</text>
<text x="27.80" y="438.41" text-anchor="middle" font-size="7.75" fill="#333" >6</text>
<text x="37.90" y="433.21" text-anchor="start" font-size="7.75" fill="#333" >BRN</text>
<text x="27.80" y="451.36" text-anchor="middle" font-size="7.75" fill="#333" >7</text>
<text x="37.90" y="446.16" text-anchor="start" font-size="7.75" fill="#333" >RED</text>
<text x="27.80" y="464.32" text-anchor="middle" font-size="7.75" fill="#333" >8</text>
<text x="37.90" y="459.12" text-anchor="start" font-size="7.75" fill="#333" >YEL</text>
<text x="27.80" y="477.27" text-anchor="middle" font-size="7.75" fill="#333" >9</text>
<text x="37.90" y="472.07" text-anchor="start" font-size="7.75" fill="#333" >LT GRN</text>
<text x="27.80" y="503.18" text-anchor="middle" font-size="7.75" fill="#333" >10</text>
<text x="37.90" y="497.98" text-anchor="start" font-size="7.75" fill="#333" >DK GRN/WHT</text>
<text x="27.80" y="516.14" text-anchor="middle" font-size="7.75" fill="#333" >11</text>
<text x="37.90" y="510.94" text-anchor="start" font-size="7.75" fill="#333" >LT GRN/BLK</text>
<text x="27.80" y="542.05" text-anchor="middle" font-size="7.75" fill="#333" >12</text>
<text x="37.90" y="536.85" text-anchor="start" font-size="7.75" fill="#333" >LT BLU/WHT</text>
<text x="27.80" y="555.00" text-anchor="middle" font-size="7.75" fill="#333" >13</text>
<text x="37.90" y="549.81" text-anchor="start" font-size="7.75" fill="#333" >LT GRN/WHT</text>
<text x="27.80" y="567.96" text-anchor="middle" font-size="7.75" fill="#333" >14</text>
<text x="37.90" y="562.76" text-anchor="start" font-size="7.75" fill="#333" >RED</text>
<text x="27.80" y="593.87" text-anchor="middle" font-size="7.75" fill="#333" >15</text>
<text x="37.90" y="588.67" text-anchor="start" font-size="7.75" fill="#333" >WHT</text>
<text x="27.80" y="606.82" text-anchor="middle" font-size="7.75" fill="#333" >16</text>
<text x="37.90" y="601.62" text-anchor="start" font-size="7.75" fill="#333" >DK BLU</text>
<text x="27.80" y="619.78" text-anchor="middle" font-size="7.75" fill="#333" >17</text>
<text x="37.90" y="614.58" text-anchor="start" font-size="7.75" fill="#333" >RED/BLK</text>
<text x="27.80" y="632.74" text-anchor="middle" font-size="7.75" fill="#333" >18</text>
<text x="37.90" y="627.54" text-anchor="start" font-size="7.75" fill="#333" >LT BLU/WHT</text>
<text x="27.80" y="645.69" text-anchor="middle" font-size="7.75" fill="#333" >19</text>
<text x="37.90" y="640.49" text-anchor="start" font-size="7.75" fill="#333" >WHT</text>
<text x="27.80" y="658.64" text-anchor="middle" font-size="7.75" fill="#333" >20</text>
<text x="37.90" y="653.45" text-anchor="start" font-size="7.75" fill="#333" >BRN</text>
<text x="27.80" y="671.60" text-anchor="middle" font-size="7.75" fill="#333" >21</text>
<text x="37.90" y="666.40" text-anchor="start" font-size="7.75" fill="#333" >YEL/BLK</text>
<text x="27.80" y="684.55" text-anchor="middle" font-size="7.75" fill="#333" >22</text>
<text x="37.90" y="679.36" text-anchor="start" font-size="7.75" fill="#333" >LT GRN</text>
<text x="27.80" y="697.51" text-anchor="middle" font-size="7.75" fill="#333" >23</text>
<text x="37.90" y="692.31" text-anchor="start" font-size="7.75" fill="#333" >PPL/WHT</text>
<text x="27.80" y="710.46" text-anchor="middle" font-size="7.75" fill="#333" >24</text>
<text x="37.90" y="705.26" text-anchor="start" font-size="7.75" fill="#333" >DK BLU</text>
<text x="27.80" y="723.42" text-anchor="middle" font-size="7.75" fill="#333" >25</text>
<text x="37.90" y="718.22" text-anchor="start" font-size="7.75" fill="#333" >YEL/BLK</text>
<text x="27.80" y="736.38" text-anchor="middle" font-size="7.75" fill="#333" >26</text>
<text x="37.90" y="731.18" text-anchor="start" font-size="7.75" fill="#333" >PNK</text>
<text x="27.80" y="749.33" text-anchor="middle" font-size="7.75" fill="#333" >27</text>
<text x="37.90" y="744.13" text-anchor="start" font-size="7.75" fill="#333" >RED</text>
<text x="27.80" y="775.24" text-anchor="middle" font-size="7.75" fill="#333" >28</text>
<text x="37.90" y="770.04" text-anchor="start" font-size="7.75" fill="#333" >PNK</text>
<text x="27.80" y="788.19" text-anchor="middle" font-size="7.75" fill="#333" >29</text>
<text x="37.90" y="783.00" text-anchor="start" font-size="7.75" fill="#333" >PNK</text>
<text x="27.80" y="801.15" text-anchor="middle" font-size="7.75" fill="#333" >30</text>
<text x="37.90" y="795.95" text-anchor="start" font-size="7.75" fill="#333" >BLK</text>
<text x="27.80" y="814.11" text-anchor="middle" font-size="7.75" fill="#333" >31</text>
<text x="37.90" y="808.91" text-anchor="start" font-size="7.75" fill="#333" >DK GRN/WHT</text>
<text x="646.60" y="204.12" text-anchor="end" font-size="7.75" fill="#333" >A/C SYSTEM</text>
<text x="646.60" y="281.85" text-anchor="end" font-size="7.75" fill="#333" >A/C SYSTEM</text>
<text x="646.60" y="489.13" text-anchor="end" font-size="7.75" fill="#333" >A/C SYSTEM</text>
<text x="646.60" y="618.68" text-anchor="end" font-size="7.75" fill="#333" >A/C SYSTEM</text>
<text x="647.60" y="225.73" text-anchor="end" font-size="7.75" fill="#333" >CRUISE CONTROL</text>
<text x="647.60" y="235.73" text-anchor="end" font-size="7.75" fill="#333" >SYSTEM</text>
<text x="647.00" y="251.54" text-anchor="end" font-size="7.75" fill="#333" >STARTING/CHARGING</text>
<text x="647.00" y="260.54" text-anchor="end" font-size="7.75" fill="#333" >SYSTEM</text>
<text x="648.00" y="308.06" text-anchor="end" font-size="7.75" fill="#333" >TRANSMISSIONS SYSTEM</text>
<text x="699.00" y="689.80" text-anchor="end" font-size="7.75" fill="#333" >ANTI-LOCK BRAKE SYSTEM</text>
<text x="701.20" y="699.50" text-anchor="end" font-size="7.75" fill="#333" >(SPEED SIGNAL)</text>
<text x="731.20" y="761.18" text-anchor="end" font-size="7.75" fill="#333" >INFO NOT AVAIL</text>
<text x="725.80" y="774.14" text-anchor="end" font-size="7.75" fill="#333" >A/C SYSTEM</text>
<text x="776.20" y="29.70" text-anchor="start" font-size="7.75" fill="#333" >BLK/WHT</text>
<text x="727.40" y="45.70" text-anchor="start" font-size="7.75" fill="#333" >S103</text>
<text x="854.20" y="30.60" text-anchor="start" font-size="7.75" fill="#333" >G103</text>
<text x="854.20" y="39.90" text-anchor="start" font-size="7.75" fill="#333" >(LEFT REAR</text>
<text x="854.20" y="49.20" text-anchor="start" font-size="7.75" fill="#333" >OF ENGINE)</text>
<text x="509.20" y="18.90" text-anchor="start" font-size="7.75" fill="#333" >TRANSFER CASE SHIFT</text>
<text x="509.20" y="27.70" text-anchor="start" font-size="7.75" fill="#333" >CONTROL MODULE</text>
<text x="509.20" y="36.30" text-anchor="start" font-size="7.75" fill="#333" >(BEHIND HEADLIGHT SWITCH)</text>
<text transform="translate(487.40,68.50) rotate(-90)" font-size="7.75" fill="#333" >E3</text>
<text transform="translate(501.90,71.00) rotate(-90)" font-size="7.75" fill="#333" text-decoration="underline">C3</text>
<text transform="translate(477.20,95.60) rotate(-90)" font-size="7.75" fill="#333" >GRY/</text>
<text transform="translate(486.50,91.00) rotate(-90)" font-size="7.75" fill="#333" >BLK</text>
<text x="252.90" y="44.80" text-anchor="start" font-size="7.75" fill="#333" >ENG1</text>
<text x="252.90" y="53.40" text-anchor="start" font-size="7.75" fill="#333" >FUSE</text>
<text x="252.90" y="63.50" text-anchor="start" font-size="7.75" fill="#333" >10A</text>
<text x="222.60" y="18.70" text-anchor="start" font-size="7.75" fill="#333" >HOT IN RUN</text>
<text x="228.90" y="27.60" text-anchor="start" font-size="7.75" fill="#333" >&amp; START</text>
<text x="312.90" y="39.00" text-anchor="start" font-size="7.75" fill="#333" >UNDERHOOD</text>
<text x="312.90" y="48.40" text-anchor="start" font-size="7.75" fill="#333" >FUSE BLOCK</text>
<text transform="translate(240.60,94.00) rotate(-90)" font-size="7.75" fill="#333" >B6</text>
<text transform="translate(255.30,96.70) rotate(-90)" font-size="7.75" fill="#333" text-decoration="underline">C2</text>
<text transform="translate(266.70,94.80) rotate(-90)" font-size="7.75" fill="#333" >E3</text>
<text transform="translate(281.10,96.70) rotate(-90)" font-size="7.75" fill="#333" text-decoration="underline">C3</text>
<text transform="translate(292.00,95.00) rotate(-90)" font-size="7.75" fill="#333" >C4</text>
<text transform="translate(306.10,96.70) rotate(-90)" font-size="7.75" fill="#333" text-decoration="underline">C2</text>
<text transform="translate(241.00,118.40) rotate(-90)" font-size="7.75" fill="#333" >PNK</text>
<text transform="translate(268.90,118.40) rotate(-90)" font-size="7.75" fill="#333" >PNK</text>
<text transform="translate(292.00,118.40) rotate(-90)" font-size="7.75" fill="#333" >PNK</text>
<text x="78.60" y="248.80" text-anchor="start" font-size="7.75" fill="#333" >A</text>
<text x="89.90" y="251.40" text-anchor="start" font-size="7.75" fill="#333" >RED/BLK</text>
<text x="77.20" y="285.70" text-anchor="start" font-size="7.75" fill="#333" >B</text>
<text x="89.90" y="290.40" text-anchor="start" font-size="7.75" fill="#333" >DK BLU/WHT</text>
<text x="20.20" y="316.60" text-anchor="start" font-size="7.6" fill="#333" >AUTOMATIC TRANS-</text>
<text x="20.20" y="326.40" text-anchor="start" font-size="7.6" fill="#333" >MISSION INPUT</text>
<text x="20.20" y="336.10" text-anchor="start" font-size="7.6" fill="#333" >SHAFT SPEED</text>
<text x="20.20" y="345.60" text-anchor="start" font-size="7.6" fill="#333" >SENSOR</text>
</svg>
</body></html>
